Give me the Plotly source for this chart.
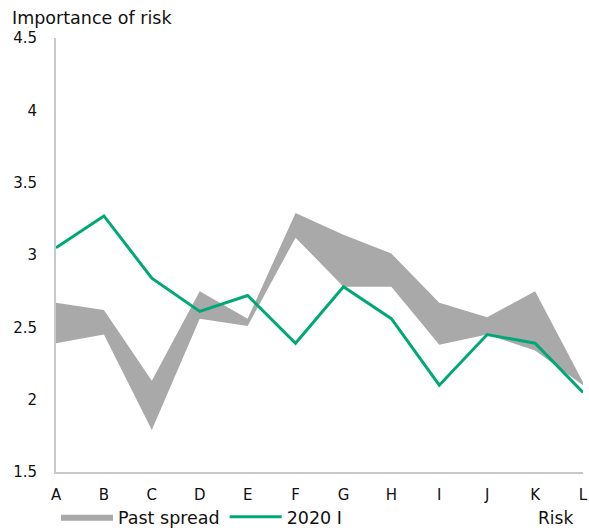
import plotly.graph_objects as go

risks = ["A", "B", "C", "D", "E", "F", "G", "H", "I", "J", "K", "L"]
spread_low = [2.39, 2.45, 1.79, 2.56, 2.51, 3.12, 2.78, 2.78, 2.38, 2.45, 2.34, 2.10]
spread_high = [2.67, 2.62, 2.13, 2.75, 2.56, 3.29, 3.14, 3.01, 2.67, 2.57, 2.75, 2.12]
current = [3.05, 3.27, 2.84, 2.61, 2.72, 2.39, 2.78, 2.56, 2.10, 2.45, 2.39, 2.05]
y_ticks = [1.5, 2, 2.5, 3, 3.5, 4, 4.5]
y_tick_text = ["1.5", "2", "2.5", "3", "3.5", "4", "4.5"]

FONT = "DejaVu Sans"
GREY = "#A9A9A9"
GREEN = "#00A878"
INK = "#111111"

fig = go.Figure()
fig.add_trace(go.Scatter(
    x=risks, y=spread_low, mode="lines", line=dict(width=0, color=GREY),
    showlegend=False, hoverinfo="skip",
))
fig.add_trace(go.Scatter(
    x=risks, y=spread_high, mode="lines", line=dict(width=0, color=GREY),
    fill="tonexty", fillcolor=GREY, name="Past spread",
))
fig.add_trace(go.Scatter(
    x=risks, y=current, mode="lines", line=dict(width=3, color=GREEN),
    name="2020 I",
))

fig.update_layout(
    width=589, height=528,
    margin=dict(l=56, r=6, t=38, b=56, autoexpand=False),
    paper_bgcolor="white", plot_bgcolor="white",
    font=dict(family=FONT, size=14, color=INK),
    showlegend=True,
    legend=dict(
        orientation="h", x=0.0, xanchor="left",
        yref="container", y=0.021, yanchor="middle",
        font=dict(family=FONT, size=17.5, color=INK),
        itemwidth=52, bgcolor="rgba(0,0,0,0)", traceorder="normal",
    ),
    xaxis=dict(
        type="category", range=[0, 11], showgrid=False, zeroline=False,
        showline=True, linecolor="#C8C8C8", linewidth=2,
        ticks="", ticklabelstandoff=8,
        tickfont=dict(family=FONT, size=15, color=INK),
    ),
    yaxis=dict(
        range=[1.5, 4.5], tickvals=y_ticks, ticktext=y_tick_text,
        showgrid=False, zeroline=False,
        showline=True, linecolor="#C8C8C8", linewidth=2,
        ticks="", ticklabelstandoff=14,
        tickfont=dict(family=FONT, size=15, color=INK),
    ),
    annotations=[
        dict(text="Importance of risk", x=0, xref="paper", xanchor="left",
             xshift=-46, y=1, yref="paper", yanchor="bottom", yshift=8,
             showarrow=False, font=dict(family=FONT, size=17.5, color=INK)),
        dict(text="Risk", x=1, xref="paper", xanchor="right", xshift=-8,
             y=0, yref="paper", yanchor="middle", yshift=-46,
             showarrow=False, font=dict(family=FONT, size=17, color=INK)),
    ],
)

fig.write_html("out.html")
